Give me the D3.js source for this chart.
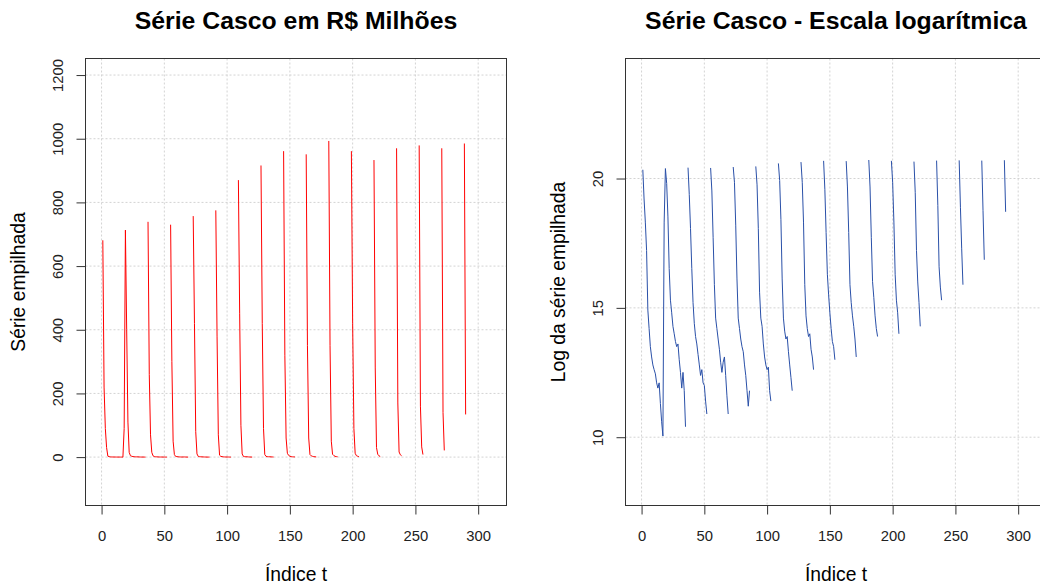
<!DOCTYPE html>
<html>
<head>
<meta charset="utf-8">
<script src="https://cdn.jsdelivr.net/npm/d3@7"></script>
<style>
  body { margin: 0; background: #fff; }
  svg { display: block; font-family: "Liberation Sans", Arial, sans-serif; }
</style>
</head>
<body>
<div id="chart"></div>
<script>
// values in R$ millions, one array per origin row (row k has 19-k observed values)
const linhas = [
  [681, 220, 90, 30, 3.0, 1.47, 0.73, 0.49, 0.36, 0.30, 0.255, 0.18, 0.147, 0.18, 0.081, 0.040, 0.023, 90],
  [713, 400, 110, 15, 4.4, 2.7, 1.6, 1.2, 0.89, 0.73, 0.81, 0.44, 0.27, 0.147, 0.27, 0.133, 0.033],
  [739, 260, 70, 15, 4.0, 1.8, 1.08, 0.81, 0.54, 0.36, 0.24, 0.30, 0.18, 0.163, 0.089, 0.054],
  [730, 300, 50, 8, 2.2, 1.47, 0.98, 0.66, 0.40, 0.27, 0.40, 0.49, 0.24, 0.109, 0.054],
  [757, 420, 80, 10, 2.2, 1.47, 0.98, 0.73, 0.60, 0.36, 0.24, 0.133, 0.073, 0.133],
  [775, 380, 70, 6, 2.2, 1.6, 0.81, 0.49, 0.36, 0.30, 0.33, 0.133, 0.089],
  [870, 450, 100, 10, 2.2, 1.33, 0.98, 1.08, 0.60, 0.36, 0.22, 0.133],
  [916, 420, 90, 8, 2.4, 1.47, 1.08, 1.2, 0.66, 0.49, 0.30],
  [961, 320, 60, 12, 5.4, 2.7, 1.47, 0.89, 0.73, 0.44],
  [951, 350, 60, 8, 4.0, 2.4, 1.6, 0.98, 0.49],
  [993, 350, 50, 9, 4.9, 2.4, 1.47, 1.08],
  [961, 420, 90, 12, 4.4, 2.7, 1.2],
  [933, 280, 30, 8.9, 4.0, 1.6],
  [970, 170, 16, 7.3, 4.4],
  [979, 160, 32, 8.0],
  [970, 140, 21],
  [985, 134]
];
const slotsPorLinha = 18;

const xTicks = [0, 50, 100, 150, 200, 250, 300];
const yTicksLin = [0, 200, 400, 600, 800, 1000, 1200];
const yTicksLog = [10, 15, 20];

const titulos = ["Série Casco em R$ Milhões", "Série Casco - Escala logarítmica"];
const rotuloX = "Índice t";
const rotulosY = ["Série empilhada", "Log da série empilhada"];

// stacked series: row k occupies t = 18k+1 .. 18k+18, missing cells are NA
const serie = [];
linhas.forEach((row, k) => {
  for (let j = 0; j < slotsPorLinha; j++) {
    serie.push({ t: slotsPorLinha * k + j + 1, v: j < row.length ? row[j] : null });
  }
});

const W = 1040, H = 587;
const svg = d3.select("#chart").append("svg")
  .attr("width", W).attr("height", H);
svg.append("rect").attr("width", W).attr("height", H).attr("fill", "#fff");

const yTopo = 58.5, yBase = 505.5;

function painel(offset, yScale, yTicks, titulo, rotuloY, valor, cor) {
  const left = 85.5 + offset, right = 506.5 + offset;
  const x = d3.scaleLinear().domain([-12.4, 322.4]).range([86 + offset, 506.3 + offset]);

  const g = svg.append("g");

  // grid
  g.selectAll(".gx").data(xTicks).enter().append("line")
    .attr("x1", d => x(d)).attr("x2", d => x(d))
    .attr("y1", yTopo).attr("y2", yBase)
    .attr("stroke", "#d3d3d3").attr("stroke-dasharray", "2,2");
  g.selectAll(".gy").data(yTicks).enter().append("line")
    .attr("x1", left).attr("x2", right)
    .attr("y1", d => yScale(d)).attr("y2", d => yScale(d))
    .attr("stroke", "#d3d3d3").attr("stroke-dasharray", "2,2");

  // series
  const line = d3.line()
    .defined(d => valor(d) != null)
    .x(d => x(d.t))
    .y(d => yScale(valor(d)));
  g.append("path").datum(serie)
    .attr("d", line)
    .attr("fill", "none")
    .attr("stroke", cor)
    .attr("stroke-width", 1);

  // box
  g.append("rect")
    .attr("x", left).attr("y", yTopo)
    .attr("width", right - left).attr("height", yBase - yTopo)
    .attr("fill", "none").attr("stroke", "#333");

  // x axis
  const ax = g.append("g").attr("transform", `translate(0,${yBase})`)
    .call(d3.axisBottom(x).tickValues(xTicks).tickSize(9).tickFormat(d3.format("d")));
  ax.select(".domain").remove();
  ax.selectAll(".tick line").attr("stroke", "#333");
  ax.selectAll(".tick text")
    .attr("y", 35).attr("dy", 0)
    .attr("fill", "#222").style("font-size", "14.8px")
    .style("font-family", "'Liberation Sans', Arial, sans-serif");

  // y axis
  const ay = g.append("g").attr("transform", `translate(${left},0)`)
    .call(d3.axisLeft(yScale).tickValues(yTicks).tickSize(9).tickFormat(d3.format("d")));
  ay.select(".domain").remove();
  ay.selectAll(".tick line").attr("stroke", "#333");
  ay.selectAll(".tick text")
    .attr("x", 0).attr("y", 0).attr("dy", 0)
    .attr("text-anchor", "middle")
    .attr("transform", "translate(-23,0) rotate(-90)")
    .attr("fill", "#222").style("font-size", "14.8px")
    .style("font-family", "'Liberation Sans', Arial, sans-serif");

  const cx = (left + right) / 2;
  g.append("text")
    .attr("x", cx).attr("y", 28.5)
    .attr("text-anchor", "middle")
    .style("font-size", "24.8px").style("font-weight", "bold")
    .attr("fill", "#000")
    .text(titulo);

  g.append("text")
    .attr("x", cx).attr("y", 581)
    .attr("text-anchor", "middle")
    .style("font-size", "19.3px")
    .attr("fill", "#000")
    .text(rotuloX);

  g.append("text")
    .attr("transform", `translate(${24.5 + offset},${(yTopo + yBase) / 2}) rotate(-90)`)
    .attr("text-anchor", "middle")
    .style("font-size", "19.3px")
    .attr("fill", "#000")
    .text(rotuloY);
}

const yLin = d3.scaleLinear().domain([-152, 1252]).range([yBase, yTopo]);
const yLog = d3.scaleLinear().domain([7.36, 24.64]).range([yBase, yTopo]);

painel(0, yLin, yTicksLin, titulos[0], rotulosY[0], d => d.v, "#ff0000");
painel(540, yLog, yTicksLog, titulos[1], rotulosY[1],
  d => (d.v != null && d.v > 0) ? Math.log(d.v * 1e6) : null, "#2a50a8");
</script>
</body>
</html>
